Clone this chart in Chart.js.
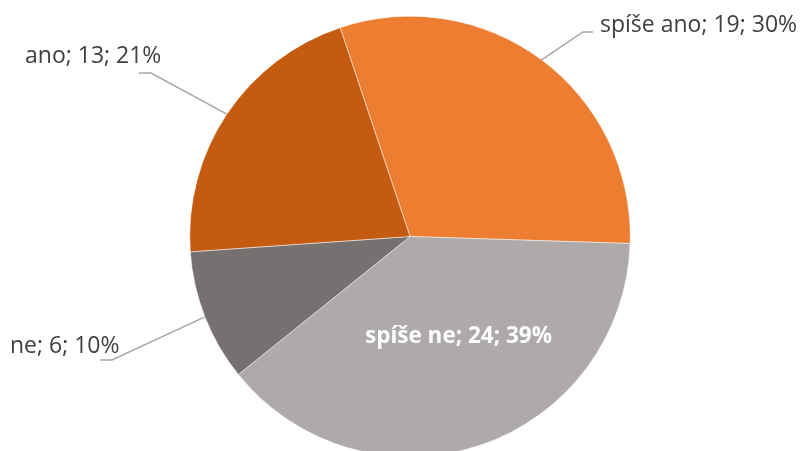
<!DOCTYPE html>
<html>
<head>
<meta charset="utf-8">
<script src="https://cdn.jsdelivr.net/npm/chart.js@4.4.0/dist/chart.umd.min.js"></script>
<style>
  html, body { margin: 0; padding: 0; background: #fff; overflow: hidden; }
  #wrap { width: 803px; height: 457px; }
</style>
</head>
<body>
<div id="wrap"><canvas id="pie"></canvas></div>
<script>
// Daten
var kategorie = ["spíše ano", "spíše ne", "ne", "ano"];
var hodnoty = [19, 24, 6, 13];
var procenta = ["30%", "39%", "10%", "21%"];
var barvy = ["#ED7D31", "#AEAAA9", "#767170", "#C55A11"];

// Popisky: pozice textu a lomu vodici cary
var popisky = [
    { x: 600, y: 32, lom: [583, 32], konec: [593, 32], uvnitr: false },
    { x: 365, y: 343, uvnitr: true },
    { x: 10, y: 353, lom: [112, 360], konec: [100, 360], uvnitr: false },
    { x: 25, y: 63, lom: [151, 73], konec: [139, 73], uvnitr: false }
];

var popiskyPlugin = {
    id: 'popisky',
    afterDatasetsDraw: function (chart) {
        var ctx = chart.ctx;
        var meta = chart.getDatasetMeta(0);
        ctx.save();
        meta.data.forEach(function (arc, i) {
            var p = popisky[i];
            var text = kategorie[i] + '; ' + hodnoty[i] + '; ' + procenta[i];
            if (p.uvnitr) {
                ctx.font = 'bold 22.5px "Open Sans"';
                ctx.fillStyle = '#ffffff';
            } else {
                var mid = (arc.startAngle + arc.endAngle) / 2;
                var sx = arc.x + Math.cos(mid) * arc.outerRadius;
                var sy = arc.y + Math.sin(mid) * arc.outerRadius;
                ctx.strokeStyle = '#A6A6A6';
                ctx.lineWidth = 1.5;
                ctx.beginPath();
                ctx.moveTo(sx, sy);
                ctx.lineTo(p.lom[0], p.lom[1]);
                ctx.lineTo(p.konec[0], p.konec[1]);
                ctx.stroke();
                ctx.font = '23px "Open Sans"';
                ctx.fillStyle = '#404040';
            }
            ctx.textAlign = 'left';
            ctx.textBaseline = 'alphabetic';
            ctx.fillText(text, p.x, p.y);
        });
        ctx.restore();
    }
};

new Chart("pie", {
    type: "pie",
    data: {
        labels: kategorie,
        datasets: [{
            data: hodnoty,
            backgroundColor: barvy,
            borderColor: '#ffffff',
            borderWidth: 0.5
        }]
    },
    options: {
        responsive: true,
        maintainAspectRatio: false,
        animation: false,
        rotation: -18.5,
        layout: { padding: { top: 16, bottom: 0, left: 17, right: 0 } },
        plugins: {
            legend: { display: false },
            tooltip: { enabled: false }
        }
    },
    plugins: [popiskyPlugin]
});
</script>
</body>
</html>
